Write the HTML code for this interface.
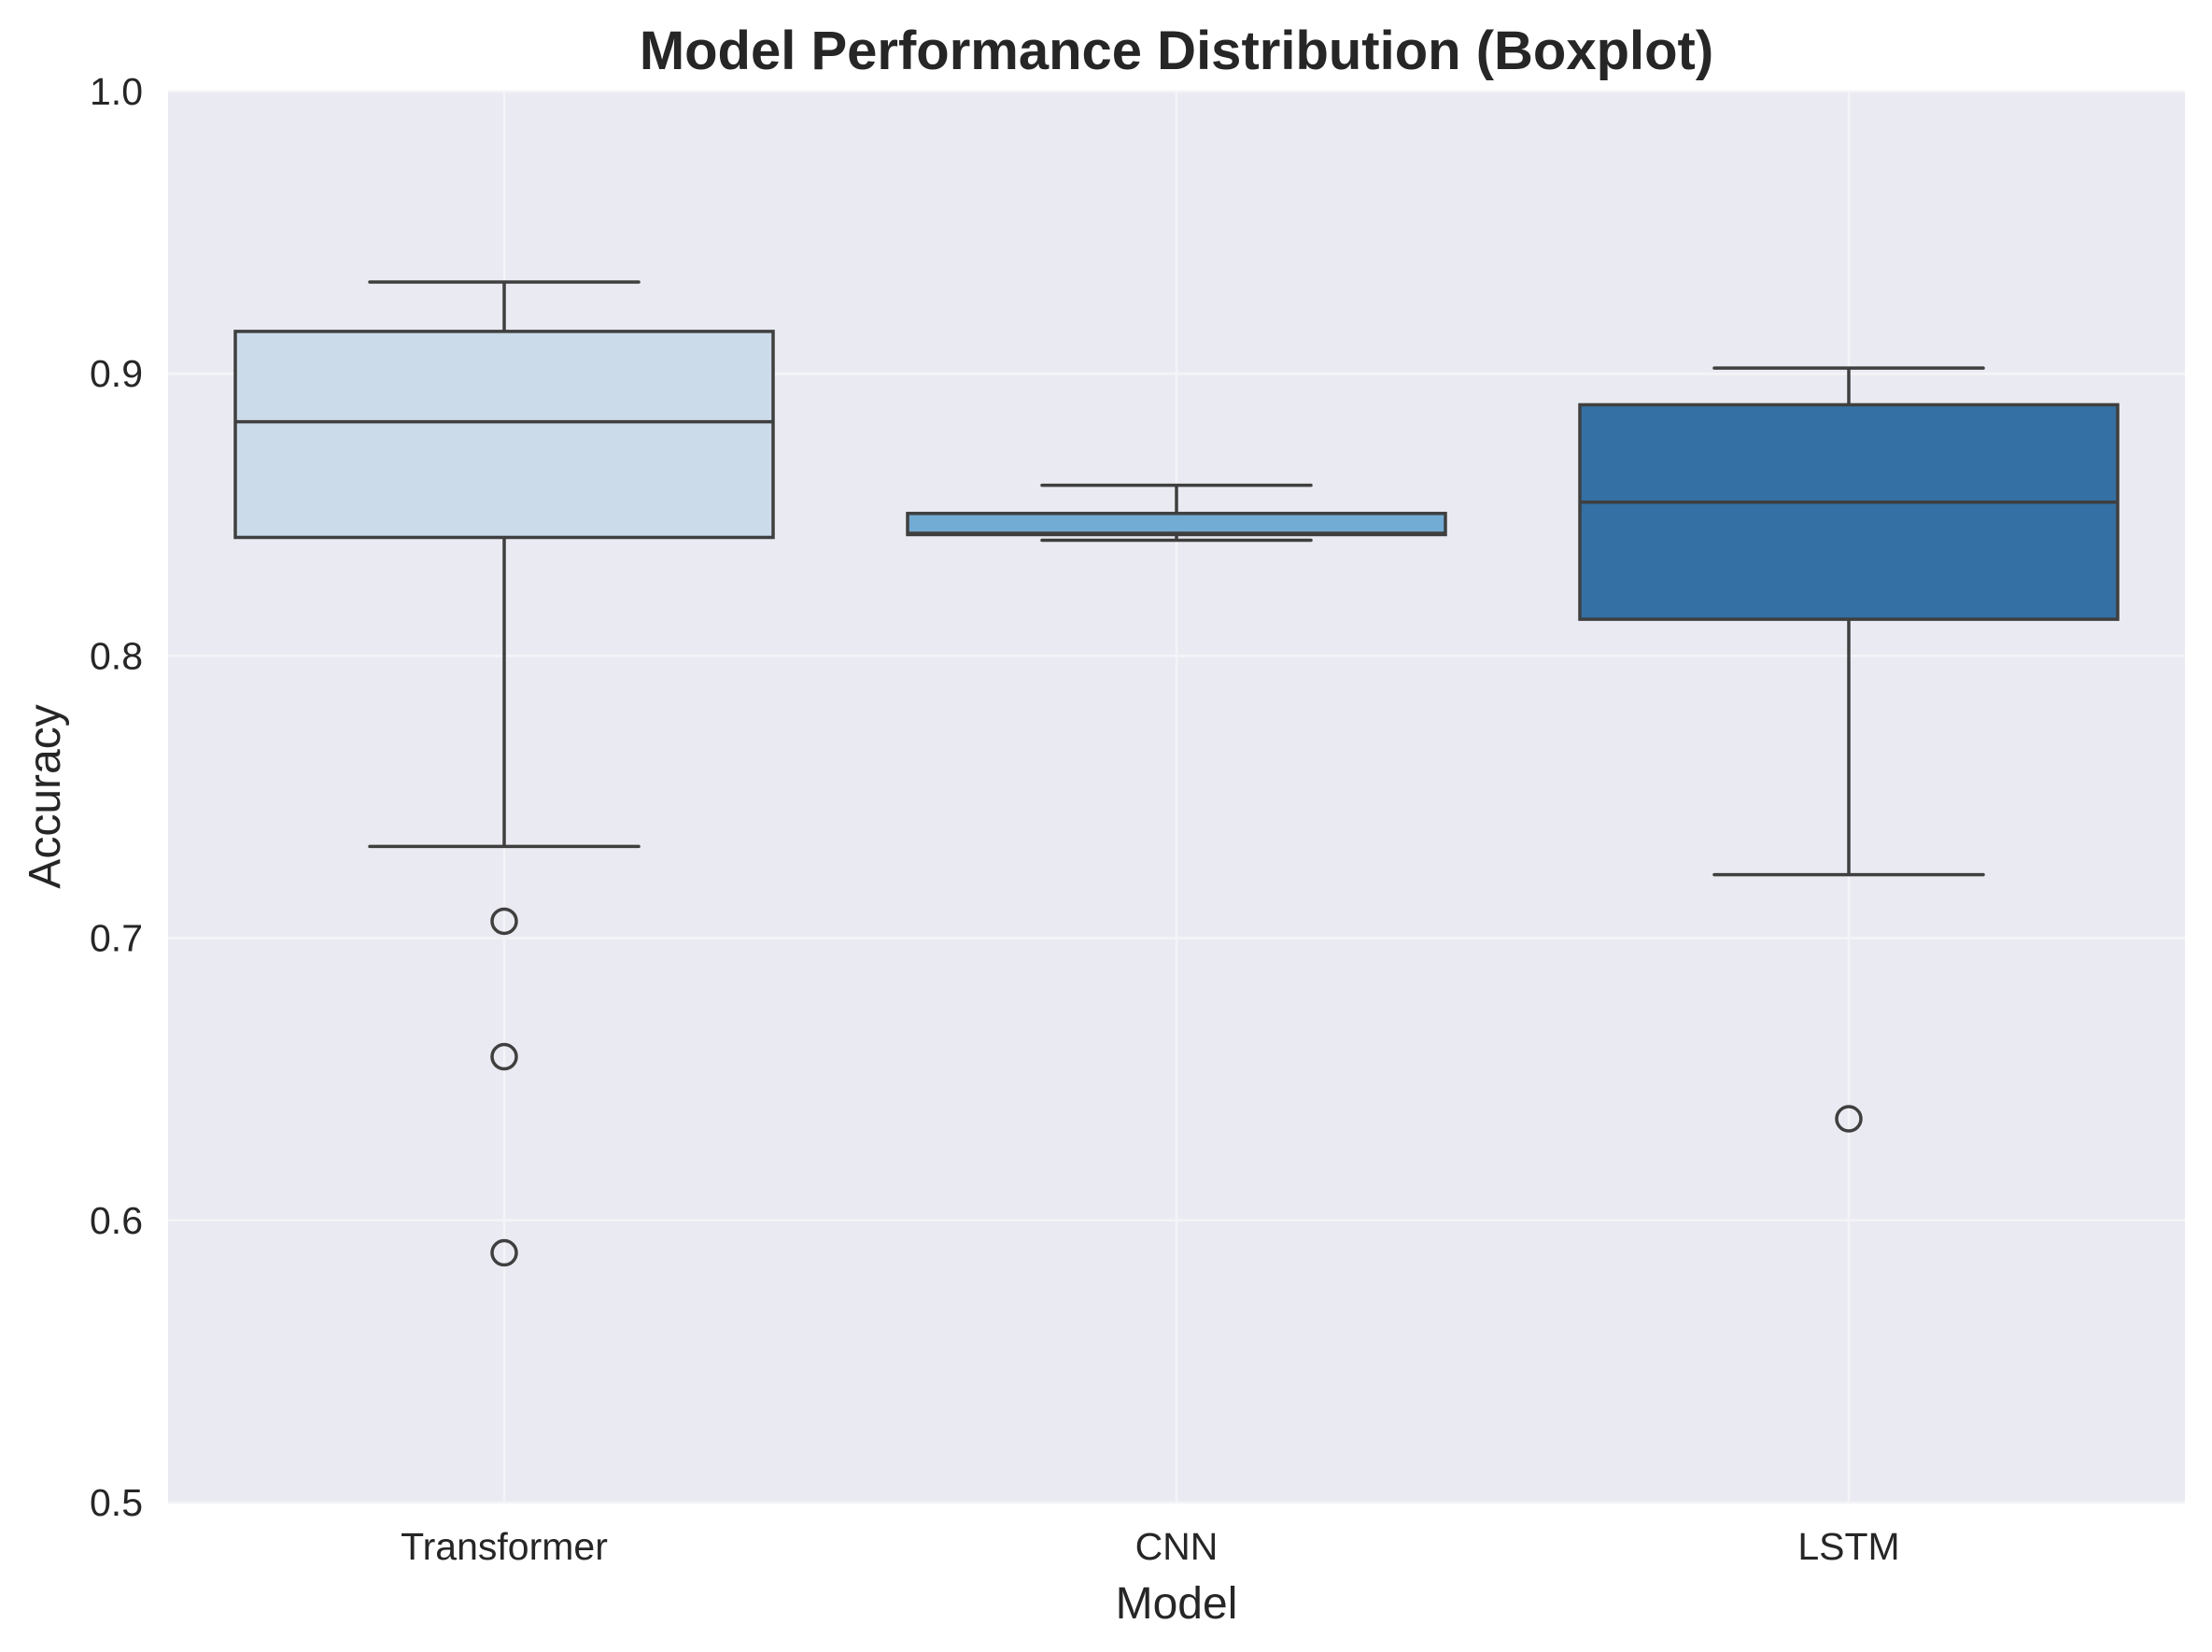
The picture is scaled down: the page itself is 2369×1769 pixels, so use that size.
<!DOCTYPE html>
<html><head><meta charset="utf-8"><style>
html,body{margin:0;padding:0;background:#fff;}
svg{display:block;font-family:"Liberation Sans",Arial,sans-serif;}
</style></head><body>
<svg id="chart" width="2369" height="1769" viewBox="0 0 2369 1769" xmlns="http://www.w3.org/2000/svg">
<rect x="0" y="0" width="2369" height="1769" fill="#ffffff"/>
<rect x="180" y="98" width="2160" height="1511" fill="#eaeaf2"/>
<g id="grid"></g>
<g id="marks"></g>
<g id="axes"></g>
<text x="1260" y="74" text-anchor="middle" font-size="58" font-weight="bold" fill="#262626">Model Performance Distribution (Boxplot)</text>
<text x="1260" y="1733" text-anchor="middle" font-size="48" fill="#262626">Model</text>
<text transform="translate(64,853) rotate(-90)" text-anchor="middle" font-size="48" fill="#262626">Accuracy</text>
</svg>
<script>
const categories = ["Transformer", "CNN", "LSTM"];
const whiskerLow = [0.7325, 0.841, 0.7225];
const q1Values = [0.842, 0.843, 0.813];
const medianValues = [0.883, 0.8435, 0.8545];
const q3Values = [0.915, 0.8505, 0.889];
const whiskerHigh = [0.9325, 0.8605, 0.902];
const outliers = [[0.706, 0.658, 0.5885], [], [0.636]];
const yTicks = [0.5, 0.6, 0.7, 0.8, 0.9, 1.0];
const yTickLabels = ["0.5", "0.6", "0.7", "0.8", "0.9", "1.0"];
const boxColors = ["#cbdbea", "#72abd3", "#3470a3"];

const L = 180, R = 2340, T = 98, B = 1609, yMin = 0.5, yMax = 1.0;
const band = (R - L) / categories.length;
const xC = i => L + band * (i + 0.5);
const yS = v => B - (v - yMin) / (yMax - yMin) * (B - T);
const NS = "http://www.w3.org/2000/svg";
function mk(tag, attrs, parent) {
  const e = document.createElementNS(NS, tag);
  for (const k in attrs) e.setAttribute(k, attrs[k]);
  parent.appendChild(e);
  return e;
}
const grid = document.getElementById('grid');
const marks = document.getElementById('marks');
const axes = document.getElementById('axes');
const LC = "#3f3f3f", LW = 3.5;

yTicks.forEach((t, i) => {
  const g = mk('line', {x1: L, x2: R, y1: yS(t), y2: yS(t), stroke: '#f4f4f8', 'stroke-width': 2.5}, grid);
  
  
  const lb = mk('text', {x: 153, y: yS(t) + 14, 'text-anchor': 'end', 'font-size': 41, fill: '#262626'}, axes);
  lb.textContent = yTickLabels[i];
  
  
});
categories.forEach((c, i) => {
  const g = mk('line', {x1: xC(i), x2: xC(i), y1: T, y2: B, stroke: '#f4f4f8', 'stroke-width': 2.5}, grid);
  
  
  const lb = mk('text', {x: xC(i), y: 1670, 'text-anchor': 'middle', 'font-size': 41, fill: '#262626'}, axes);
  lb.textContent = c;
  
  
});

categories.forEach((c, i) => {
  const cx = xC(i), bw = band * 0.8, cw = bw / 2;
  const g = mk('g', {}, marks);
  
  
  const w1 = mk('line', {x1: cx, x2: cx, y1: yS(q3Values[i]), y2: yS(whiskerHigh[i]), stroke: LC, 'stroke-width': LW}, g);
  
  
  const w2 = mk('line', {x1: cx, x2: cx, y1: yS(q1Values[i]), y2: yS(whiskerLow[i]), stroke: LC, 'stroke-width': LW}, g);
  
  
  const c1 = mk('line', {x1: cx - cw / 2, x2: cx + cw / 2, y1: yS(whiskerHigh[i]), y2: yS(whiskerHigh[i]), stroke: LC, 'stroke-width': LW, 'stroke-linecap': 'round'}, g);
  
  
  const c2 = mk('line', {x1: cx - cw / 2, x2: cx + cw / 2, y1: yS(whiskerLow[i]), y2: yS(whiskerLow[i]), stroke: LC, 'stroke-width': LW, 'stroke-linecap': 'round'}, g);
  
  
  const r = mk('rect', {x: cx - bw / 2, y: yS(q3Values[i]), width: bw, height: yS(q1Values[i]) - yS(q3Values[i]), fill: boxColors[i], stroke: LC, 'stroke-width': LW}, g);
  
  
  const m = mk('line', {x1: cx - bw / 2, x2: cx + bw / 2, y1: yS(medianValues[i]), y2: yS(medianValues[i]), stroke: LC, 'stroke-width': LW}, g);
  
  
  outliers[i].forEach(v => {
    const o = mk('circle', {cx: cx, cy: yS(v), r: 13, fill: 'none', stroke: LC, 'stroke-width': 3.5}, g);
    
    
  });
});
</script>
</body></html>
